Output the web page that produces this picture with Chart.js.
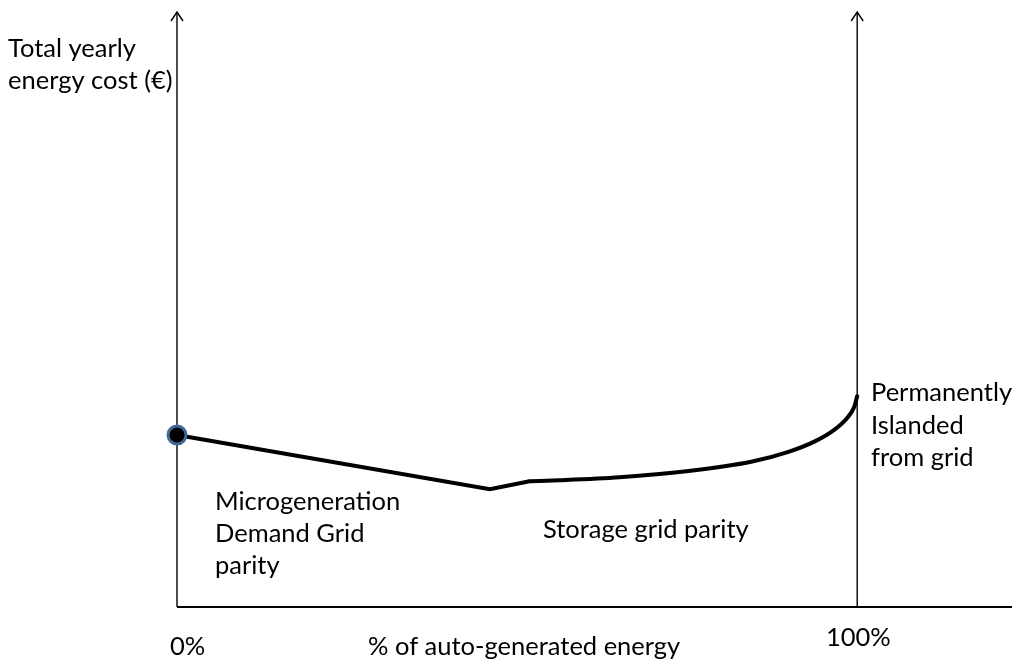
<!DOCTYPE html>
<html>
<head>
<meta charset="utf-8">
<script src="https://cdn.jsdelivr.net/npm/chart.js@4.4.1/dist/chart.umd.min.js"></script>
<style>
html,body{margin:0;padding:0;background:#fff;}
#wrap{width:1024px;height:669px;position:relative;}
</style>
</head>
<body>
<div id="wrap"><canvas id="c"></canvas></div>
<script>
// Data (x: % of auto-generated energy, y: relative yearly cost)
const startPoint = [{x: 0, y: 28.9}];
const linearPart = [{x: 0, y: 28.9}, {x: 46.0, y: 19.8}, {x: 51.84, y: 21.13}];
const curveX = [51.84, 56.24, 65.05, 74.89, 84.58, 90.01, 93.69, 96.62, 98.53, 99.56, 100];
const curveY = [21.13, 21.30, 21.80, 22.80, 24.46, 26.12, 27.79, 29.78, 31.78, 33.61, 35.44];
const axisEndX = 100;      // "100%" vertical line
const xLabels = ['0%', '100%'];
const xTitle = '% of auto-generated energy';
const yTitle = ['Total yearly', 'energy cost (€)'];
const regionLabels = [
  {lines: ['Microgeneration', 'Demand Grid', 'parity']},
  {lines: ['Storage grid parity']},
  {lines: ['Permanently', 'Islanded', 'from grid']}
];

const curvePart = curveX.map((x, i) => ({x, y: curveY[i]}));

const FONT = '25.5px Lato';

const decor = {
  id: 'decor',
  beforeDatasetsDraw(chart) {
    const {ctx, scales: {x, y}} = chart;
    const x0 = x.getPixelForValue(0), x1 = x.getPixelForValue(axisEndX);
    const yb = y.getPixelForValue(0), yt = y.getPixelForValue(100);
    ctx.save();
    ctx.strokeStyle = '#000';
    // horizontal axis
    ctx.lineWidth = 2;
    ctx.beginPath();
    ctx.moveTo(x0, yb); ctx.lineTo(x.right, yb);
    ctx.stroke();
    // vertical lines with arrowheads
    ctx.lineWidth = 1.4;
    [x0, x1].forEach(px => {
      ctx.beginPath();
      ctx.moveTo(px, yb); ctx.lineTo(px, yt);
      ctx.stroke();
      ctx.beginPath();
      ctx.moveTo(px - 6, yt + 9); ctx.lineTo(px, yt); ctx.lineTo(px + 6, yt + 9);
      ctx.stroke();
    });
    ctx.restore();
  },
  afterDraw(chart) {
    const {ctx} = chart;
    ctx.save();
    ctx.fillStyle = '#000';
    ctx.font = FONT;
    ctx.textAlign = 'left';
    ctx.textBaseline = 'alphabetic';
    // y title
    ctx.fillText(yTitle[0], 8, 57);
    ctx.fillText(yTitle[1], 8, 89);
    // x labels
    ctx.fillText(xLabels[0], 170, 655);
    ctx.fillText(xLabels[1], 826, 646);
    ctx.fillText(xTitle, 368, 655);
    // region labels
    const pos = [[215, 510, 32], [543, 538, 32], [871, 401, 32.5]];
    regionLabels.forEach((r, i) => {
      const [px, py, lh] = pos[i];
      r.lines.forEach((t, j) => ctx.fillText(t, px, py + j * lh));
    });
    ctx.restore();
  }
};

new Chart(document.getElementById('c'), {
  type: 'scatter',
  data: {
    datasets: [
      {
        data: startPoint, showLine: false,
        pointRadius: 9, pointHoverRadius: 9,
        pointBackgroundColor: '#000', pointBorderColor: '#41689b', pointBorderWidth: 3,
        clip: false
      },
      {
        data: linearPart, showLine: true, tension: 0,
        borderColor: '#000', borderWidth: 4, pointRadius: 0, clip: false
      },
      {
        data: curvePart, showLine: true, cubicInterpolationMode: 'monotone',
        borderColor: '#000', borderWidth: 4, pointRadius: 0, clip: false,
        borderCapStyle: 'round'
      }
    ]
  },
  options: {
    responsive: true, maintainAspectRatio: false, animation: false,
    layout: {padding: {left: 177, right: 11, top: 6, bottom: 62}},
    plugins: {legend: {display: false}, tooltip: {enabled: false}},
    scales: {
      x: {type: 'linear', min: 0, max: 122.76, display: false},
      y: {type: 'linear', min: 0, max: 100, display: false}
    }
  },
  plugins: [decor]
});
</script>
</body>
</html>
